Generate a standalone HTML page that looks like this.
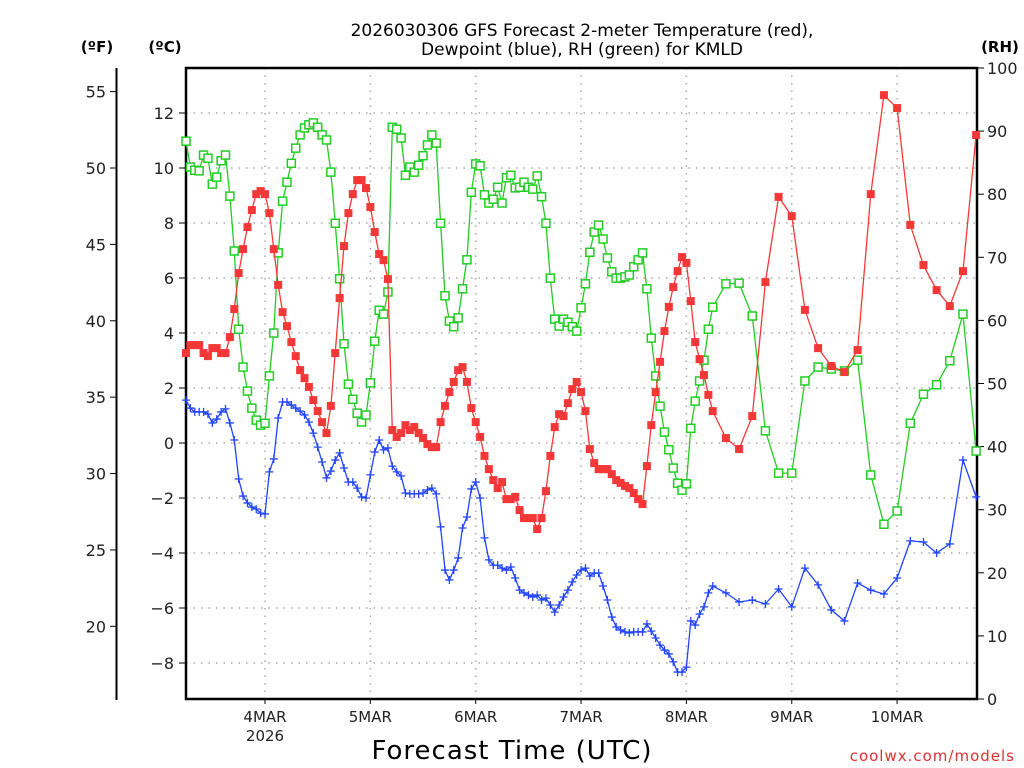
<!DOCTYPE html>
<html><head><meta charset="utf-8"><style>
body{margin:0;background:#fff;width:1024px;height:768px;overflow:hidden}
svg{display:block;font-family:"DejaVu Sans","Liberation Sans",sans-serif}
</style></head><body>
<svg id="chart" width="1024" height="768" viewBox="0 0 1024 768">
<text x="582" y="36" text-anchor="middle" font-size="17" fill="#000">2026030306 GFS Forecast 2-meter Temperature (red),</text>
<text x="582" y="55" text-anchor="middle" font-size="17" fill="#000">Dewpoint (blue), RH (green) for KMLD</text>
<text x="97" y="52" text-anchor="middle" font-size="15" font-weight="bold">(ºF)</text>
<text x="165" y="52" text-anchor="middle" font-size="15" font-weight="bold">(ºC)</text>
<text x="1000" y="52" text-anchor="middle" font-size="15" font-weight="bold">(RH)</text>
<text x="512" y="759" text-anchor="middle" font-size="26" letter-spacing="1">Forecast Time (UTC)</text>
<text x="1015" y="761" text-anchor="end" font-size="15" fill="#e03030" letter-spacing="1">coolwx.com/models</text>
<g id="grid"></g><g id="axes"></g><g id="series"></g>
</svg>
<script>
const hours=[];for(let h=0;h<=120;h++)hours.push(h);for(let h=123;h<=180;h+=3)hours.push(h);
const dayTicks=[18,42,66,90,114,138,162];
const dayLabels=["4MAR","5MAR","6MAR","7MAR","8MAR","9MAR","10MAR"];
const cTicks=[12,10,8,6,4,2,0,-2,-4,-6,-8];
const fTicks=[55,50,45,40,35,30,25,20];
const rhTicks=[100,90,80,70,60,50,40,30,20,10,0];
const temp=[3.27,3.56,3.56,3.56,3.27,3.16,3.45,3.45,3.27,3.27,3.85,4.87,6.18,7.05,7.85,8.47,9.05,9.16,9.05,8.36,7.05,5.75,4.76,4.25,3.67,3.16,2.65,2.36,2.04,1.56,1.16,0.76,0.36,1.35,3.27,5.27,7.16,8.36,9.05,9.56,9.56,9.27,8.58,7.67,6.87,6.65,5.96,0.47,0.22,0.36,0.65,0.47,0.58,0.36,0.18,-0.04,-0.15,-0.15,0.76,1.35,1.85,2.22,2.65,2.76,2.22,1.27,0.76,0.22,-0.47,-0.95,-1.35,-1.64,-1.42,-2.04,-2.04,-1.96,-2.44,-2.73,-2.73,-2.73,-3.13,-2.73,-1.75,-0.47,0.58,1.05,0.98,1.45,1.96,2.22,1.85,1.16,-0.22,-0.73,-0.95,-0.95,-0.95,-1.13,-1.35,-1.45,-1.56,-1.64,-1.82,-2.04,-2.22,-0.84,0.65,1.85,2.95,4.07,4.95,5.67,6.25,6.76,6.55,5.16,3.67,3.05,2.47,1.75,1.16,
0.18,-0.22,0.98,5.85,8.95,8.25,4.84,3.45,2.80,2.58,3.38,9.05,12.65,12.18,7.93,6.47,5.56,4.98,6.25,11.2];
const dewpt=[1.56,1.27,1.13,1.13,1.13,1.05,0.73,0.87,1.13,1.24,0.73,0.11,-1.31,-1.93,-2.18,-2.33,-2.4,-2.55,-2.58,-1.05,-0.58,0.91,1.49,1.49,1.38,1.27,1.16,1.02,0.76,0.36,-0.15,-0.69,-1.27,-1.02,-0.62,-0.36,-0.91,-1.42,-1.42,-1.64,-1.96,-2.0,-1.16,-0.33,0.11,-0.25,-0.18,-0.84,-1.05,-1.2,-1.82,-1.85,-1.85,-1.85,-1.82,-1.71,-1.64,-1.85,-3.05,-4.62,-4.98,-4.62,-4.18,-3.09,-2.69,-1.67,-1.42,-2.0,-3.45,-4.25,-4.44,-4.44,-4.55,-4.62,-4.51,-4.91,-5.35,-5.45,-5.53,-5.6,-5.53,-5.71,-5.64,-5.89,-6.15,-5.89,-5.6,-5.35,-5.05,-4.8,-4.62,-4.55,-4.84,-4.73,-4.73,-5.2,-5.71,-6.33,-6.69,-6.8,-6.87,-6.91,-6.87,-6.87,-6.87,-6.58,-6.84,-7.09,-7.35,-7.53,-7.67,-7.96,-8.33,-8.33,-8.15,-6.47,-6.62,-6.22,-5.96,-5.45,-5.2,
-5.45,-5.78,-5.71,-5.85,-5.31,-5.96,-4.55,-5.16,-6.07,-6.47,-5.09,-5.35,-5.49,-4.91,-3.56,-3.6,-4.0,-3.67,-0.62,-1.96];
const rh=[88.4,84.3,83.8,83.7,86.2,85.7,81.6,82.7,85.3,86.2,79.7,71.0,58.6,52.6,48.8,46.1,44.2,43.4,43.7,51.2,58.0,70.7,78.9,81.9,84.9,87.3,89.4,90.5,91.0,91.3,90.6,89.4,88.6,83.5,75.4,66.6,56.3,49.9,47.5,45.3,43.9,45.0,50.1,56.7,61.6,61.0,64.5,90.6,90.3,88.9,83.0,84.3,83.5,84.6,86.1,87.8,89.4,88.1,75.4,63.9,59.9,59.0,60.4,65.0,69.6,80.3,84.8,84.5,79.9,78.6,79.2,81.1,78.6,82.6,83.0,81.0,81.1,81.9,81.1,80.8,82.9,79.6,75.4,66.7,60.2,59.1,60.2,59.7,59.0,58.3,62.0,65.8,70.8,74.0,75.1,72.9,69.9,67.7,66.7,66.7,66.9,67.2,68.5,69.6,70.7,65.0,57.2,51.2,46.4,42.3,39.5,36.6,34.2,33.1,34.1,42.9,47.2,50.4,53.7,58.6,62.1,
65.8,65.9,60.7,42.5,35.8,35.8,50.4,52.6,52.3,52.0,53.7,35.5,27.7,29.8,43.7,48.3,49.8,53.6,61.0,39.3];

const NS="http://www.w3.org/2000/svg";
const L=186,R=977,T=68,B=699;
const x=h=>L+h*(R-L)/180.2;
const yC=c=>443-c*27.5;
const yF=f=>443-(f-32)*27.5*5/9;
const yRH=v=>B-v*(B-T)/100;
function mk(tag,parent,attrs){const e=document.createElementNS(NS,tag);for(const k in attrs)e.setAttribute(k,attrs[k]);document.getElementById(parent).appendChild(e);return e;}
// grid
cTicks.forEach(c=>{const e=mk('line','grid',{x1:L,x2:R,y1:yC(c),y2:yC(c),stroke:'#aaa','stroke-width':1.5,'stroke-dasharray':'1.5 6'});

});
dayTicks.forEach(h=>{const e=mk('line','grid',{x1:x(h),x2:x(h),y1:T,y2:B,stroke:'#aaa','stroke-width':1.5,'stroke-dasharray':'1.5 6'});

});
// frame
let fr=mk('rect','axes',{x:L,y:T,width:R-L,height:B-T,fill:'none',stroke:'#000','stroke-width':2.5});


let fa=mk('line','axes',{x1:116.5,x2:116.5,y1:T,y2:B+1,stroke:'#000','stroke-width':2});


cTicks.forEach(c=>{mk('line','axes',{x1:L-7,x2:L,y1:yC(c),y2:yC(c),stroke:'#000'});
const t=mk('text','axes',{x:L-12,y:yC(c)+6,'text-anchor':'end','font-size':16,fill:'#222'});t.textContent=(c<0?'\u2212'+(-c):c);

});
fTicks.forEach(f=>{mk('line','axes',{x1:110,x2:116,y1:yF(f),y2:yF(f),stroke:'#000'});
const t=mk('text','axes',{x:106,y:yF(f)+6,'text-anchor':'end','font-size':16,fill:'#222'});t.textContent=f;

});
rhTicks.forEach(v=>{mk('line','axes',{x1:R,x2:R+7,y1:yRH(v),y2:yRH(v),stroke:'#000'});
const t=mk('text','axes',{x:R+10,y:yRH(v)+6,'font-size':16,fill:'#222'});t.textContent=v;

});
dayTicks.forEach((h,i)=>{mk('line','axes',{x1:x(h),x2:x(h),y1:B,y2:B+5,stroke:'#000'});
const t=mk('text','axes',{x:x(h),y:B+23,'text-anchor':'middle','font-size':15,fill:'#222'});t.textContent=dayLabels[i];

});
const yr=mk('text','axes',{x:x(18),y:B+42,'text-anchor':'middle','font-size':15,fill:'#222'});yr.textContent='2026';


function series(vals,yf,color,name,marker){
  const pts=vals.map((v,i)=>x(hours[i]).toFixed(1)+','+yf(v).toFixed(1)).join(' ');
  const pl=mk('polyline','series',{points:pts,fill:'none',stroke:color,'stroke-width':1.3});
  
  
  vals.forEach((v,i)=>{const px=x(hours[i]),py=yf(v);let m;
    if(marker==='fill')m=mk('rect','series',{x:px-4,y:py-4,width:8,height:8,fill:color});
    else if(marker==='open')m=mk('rect','series',{x:px-4,y:py-4,width:8,height:8,fill:'#fff',stroke:color,'stroke-width':1.5});
    else m=mk('path','series',{d:`M${px-4},${py}h8M${px},${py-4}v8`,stroke:color,'stroke-width':1.3});
    
    });
}
series(rh,yRH,'#22cc22','rh','open');
series(dewpt,yC,'#2244ff','dewpoint','plus');
series(temp,yC,'#f43838','temperature','fill');
</script>
</body></html>
